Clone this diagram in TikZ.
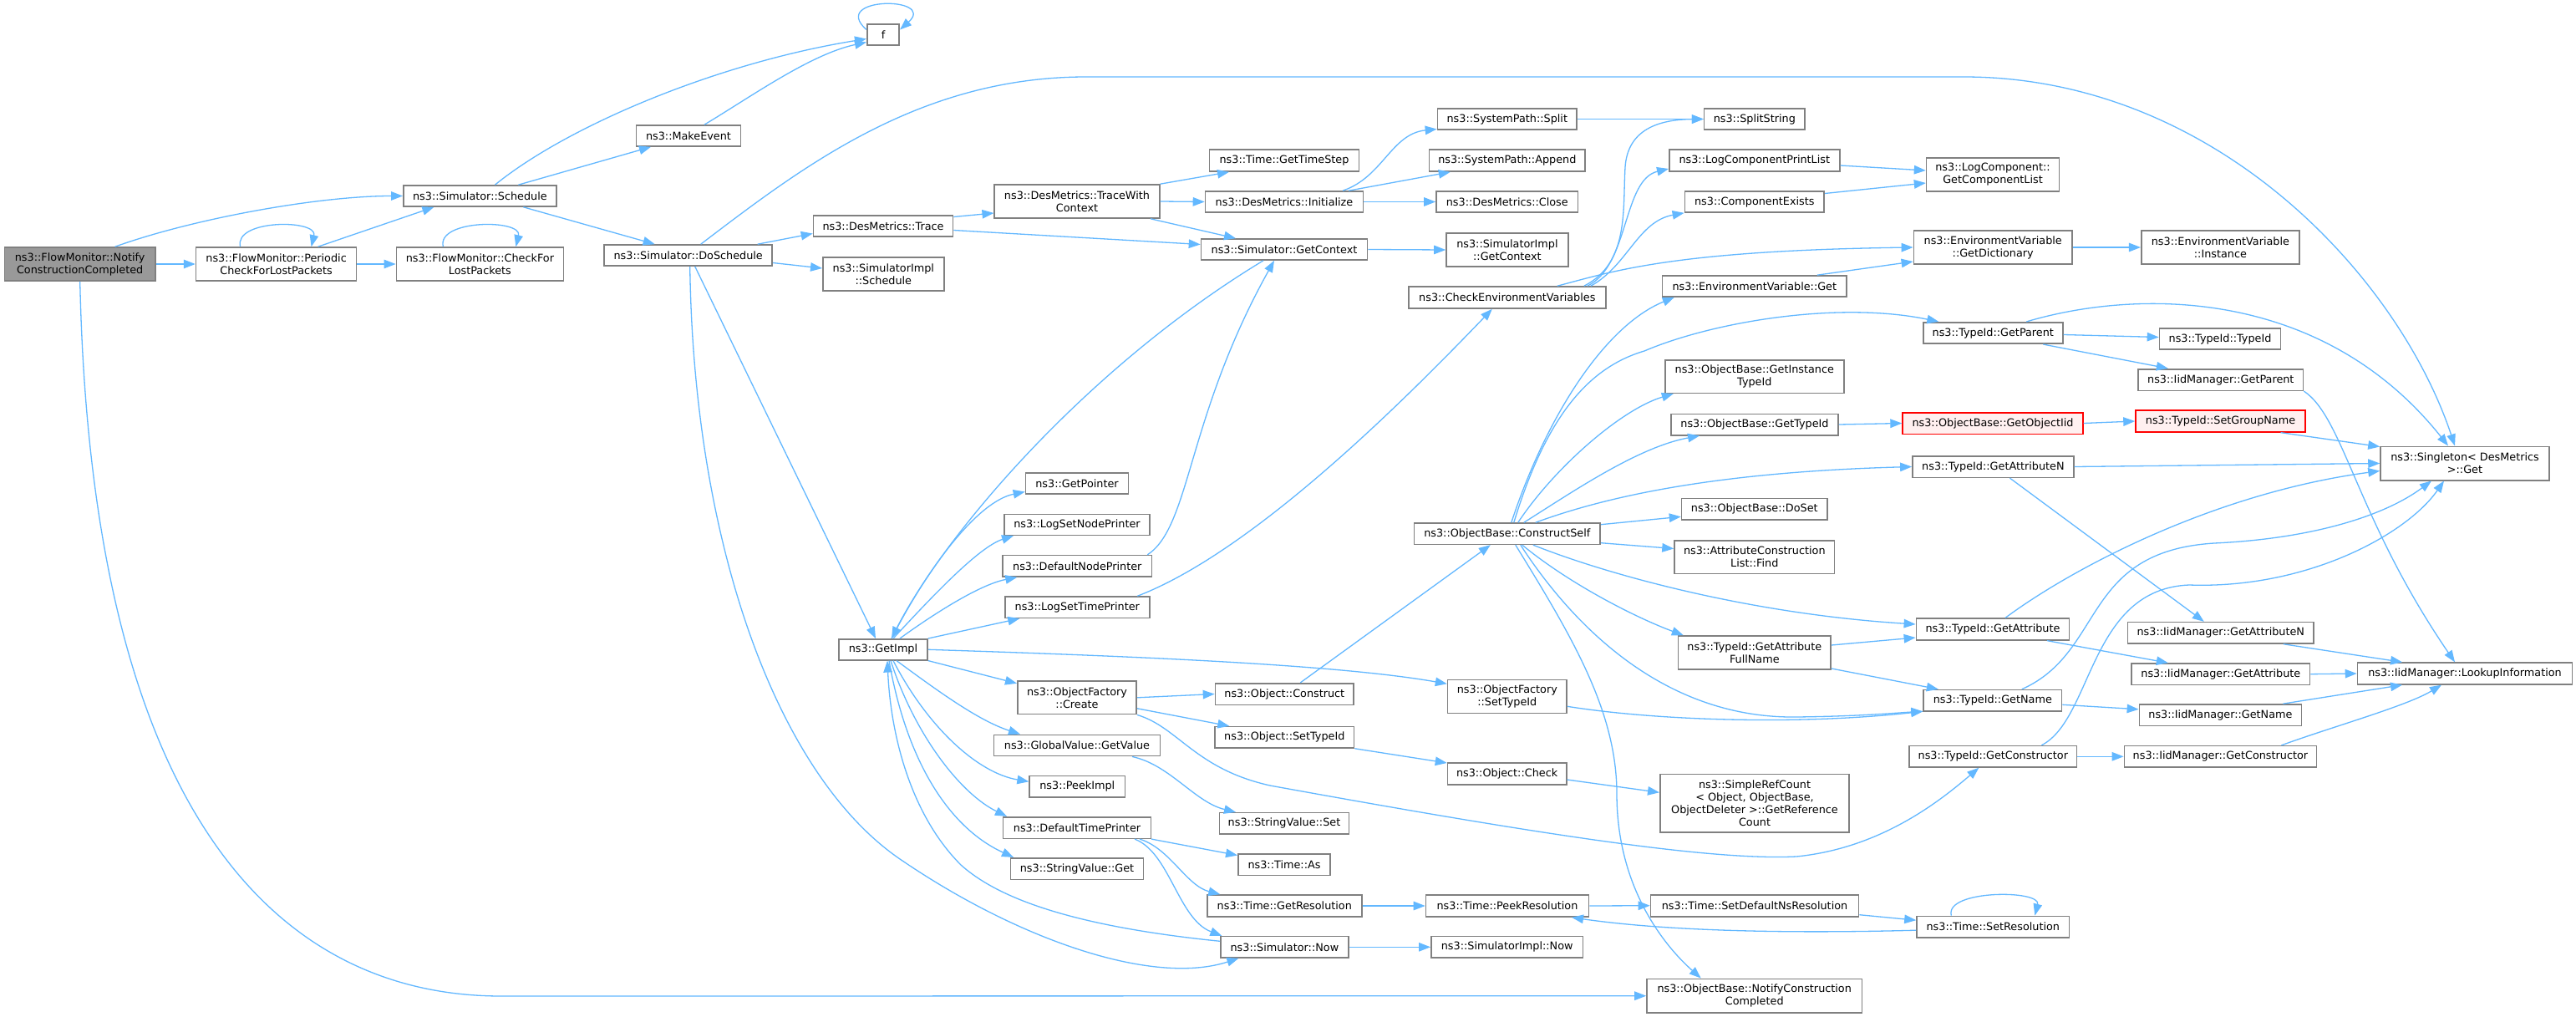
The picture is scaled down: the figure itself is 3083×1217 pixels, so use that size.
\documentclass[tikz,border=0pt]{standalone}
\usepackage{fontspec}
\setmainfont{DejaVu Sans}
\usetikzlibrary{arrows.meta}
\definecolor{edgeblue}{HTML}{63B8FF}
\definecolor{boxgray}{HTML}{808080}
\definecolor{rootfill}{HTML}{999999}
\definecolor{redfill}{HTML}{FFF0F0}
\begin{document}
\begin{tikzpicture}[x=1pt,y=1pt,
  fn/.style={draw=boxgray, line width=1.6pt, fill=white, inner sep=0pt, align=center, font=\fontsize{12.8}{15}\selectfont},
  rootnode/.style={fn, fill=rootfill},
  rednode/.style={fn, draw=red, fill=redfill},
  sz/.style 2 args={minimum width=#1pt, minimum height=#2pt},
  call/.style={draw=edgeblue, line width=1.3pt, -{Triangle[length=14pt,width=10.5pt]}},
]
\fill[white] (0,0) rectangle (3083,-1217);
\useasboundingbox (0,0) rectangle (3083,-1217);

% ---------- nodes ----------
\node[rootnode,sz={180.5}{40}] (root) at (95.7,-316) {ns3::FlowMonitor::Notify\\ConstructionCompleted};
\node[fn,sz={192}{40}] (periodic) at (330.6,-316) {ns3::FlowMonitor::Periodic\\CheckForLostPackets};
\node[fn,sz={200}{40}] (checklost) at (574.4,-316) {ns3::FlowMonitor::CheckFor\\LostPackets};
\node[fn,sz={183}{25}] (schedule) at (574.4,-234.5) {ns3::Simulator::Schedule};
\node[fn,sz={125}{25}] (makeevent) at (824,-162.5) {ns3::MakeEvent};
\node[fn,sz={38.5}{25}] (f) at (1057,-41.5) {f};
\node[fn,sz={201}{25}] (doschedule) at (823.7,-305.5) {ns3::Simulator::DoSchedule};
\node[fn,sz={167}{25}] (trace) at (1057,-270.5) {ns3::DesMetrics::Trace};
\node[fn,sz={145}{40}] (simimplsched) at (1057.3,-328) {ns3::SimulatorImpl\\::Schedule};
\node[fn,sz={106}{25}] (getimpl) at (1057,-777.3) {ns3::GetImpl};
\node[fn,sz={197.5}{40}] (tracewc) at (1289,-241) {ns3::DesMetrics::TraceWith\\Context};
\node[fn,sz={123}{25.5}] (getpointer) at (1289,-578.5) {ns3::GetPointer};
\node[fn,sz={174.5}{25}] (logsetnode) at (1289,-627.8) {ns3::LogSetNodePrinter};
\node[fn,sz={178.6}{25.3}] (defnode) at (1289.3,-677.3) {ns3::DefaultNodePrinter};
\node[fn,sz={173.2}{25.3}] (logsettime) at (1289.3,-726.7) {ns3::LogSetTimePrinter};
\node[fn,sz={142.4}{39.7}] (ofcreate) at (1289,-834.8) {ns3::ObjectFactory\\::Create};
\node[fn,sz={198.7}{25.3}] (globalvalue) at (1289,-892) {ns3::GlobalValue::GetValue};
\node[fn,sz={114.3}{25.3}] (peekimpl) at (1289.3,-941.3) {ns3::PeekImpl};
\node[fn,sz={176.7}{25.6}] (deftime) at (1289,-990.5) {ns3::DefaultTimePrinter};
\node[fn,sz={158.8}{25.6}] (stringget) at (1289,-1039.5) {ns3::StringValue::Get};
\node[fn,sz={179}{26}] (gettimestep) at (1537,-192) {ns3::Time::GetTimeStep};
\node[fn,sz={189}{25}] (initialize) at (1537,-241.5) {ns3::DesMetrics::Initialize};
\node[fn,sz={199}{25}] (getcontext) at (1537,-298.5) {ns3::Simulator::GetContext};
\node[fn,sz={165.6}{25.6}] (objconstruct) at (1537.3,-830.5) {ns3::Object::Construct};
\node[fn,sz={166.5}{25.3}] (objsettypeid) at (1537.3,-882.3) {ns3::Object::SetTypeId};
\node[fn,sz={155}{25.3}] (stringset) at (1537,-985.3) {ns3::StringValue::Set};
\node[fn,sz={110.3}{25.6}] (timeas) at (1537,-1034.5) {ns3::Time::As};
\node[fn,sz={185}{26}] (getres) at (1537.3,-1084) {ns3::Time::GetResolution};
\node[fn,sz={153}{25.3}] (simnow) at (1537.4,-1133.3) {ns3::Simulator::Now};
\node[fn,sz={166.7}{25}] (split) at (1803.8,-142.5) {ns3::SystemPath::Split};
\node[fn,sz={186.7}{26}] (append) at (1803.8,-192) {ns3::SystemPath::Append};
\node[fn,sz={169.6}{25}] (close) at (1803.8,-241.5) {ns3::DesMetrics::Close};
\node[fn,sz={145.8}{40}] (simimplctx) at (1803.9,-299) {ns3::SimulatorImpl\\::GetContext};
\node[fn,sz={236}{26}] (checkenv) at (1803.8,-356) {ns3::CheckEnvironmentVariables};
\node[fn,sz={222.8}{25.3}] (constructself) at (1803.8,-638.7) {ns3::ObjectBase::ConstructSelf};
\node[fn,sz={142.4}{40}] (ofsettypeid) at (1803.8,-833.3) {ns3::ObjectFactory\\::SetTypeId};
\node[fn,sz={142.2}{25.7}] (objcheck) at (1803.6,-926) {ns3::Object::Check};
\node[fn,sz={195}{26}] (peekres) at (1804,-1084) {ns3::Time::PeekResolution};
\node[fn,sz={181.7}{25.3}] (simimplnow) at (1803.7,-1133.3) {ns3::SimulatorImpl::Now};
\node[fn,sz={120.4}{25}] (splitstring) at (2099.8,-142.5) {ns3::SplitString};
\node[fn,sz={204}{26}] (logprintlist) at (2099.8,-192) {ns3::LogComponentPrintList};
\node[fn,sz={166.8}{25}] (compexists) at (2099.8,-241.5) {ns3::ComponentExists};
\node[fn,sz={220.4}{25}] (envget) at (2099.8,-342.5) {ns3::EnvironmentVariable::Get};
\node[fn,sz={213.8}{39.6}] (getinsttypeid) at (2099.8,-450.5) {ns3::ObjectBase::GetInstance\\TypeId};
\node[fn,sz={200}{25.4}] (obgettypeid) at (2100,-508) {ns3::ObjectBase::GetTypeId};
\node[fn,sz={174.5}{25.3}] (doset) at (2099.8,-609.3) {ns3::ObjectBase::DoSet};
\node[fn,sz={191.5}{39.6}] (acfind) at (2099.8,-666.5) {ns3::AttributeConstruction\\List::Find};
\node[fn,sz={182.6}{40}] (getattrfull) at (2099.8,-781) {ns3::TypeId::GetAttribute\\FullName};
\node[fn,sz={226.4}{69.3}] (simpleref) at (2100,-961.3) {ns3::SimpleRefCount\\< Object, ObjectBase,\\ObjectDeleter >::GetReference\\Count};
\node[fn,sz={249}{26}] (setdefns) at (2100,-1083.7) {ns3::Time::SetDefaultNsResolution};
\node[fn,sz={257.4}{40.7}] (notifycc) at (2099.7,-1191.7) {ns3::ObjectBase::NotifyConstruction\\Completed};
\node[fn,sz={158.8}{40}] (getcomplist) at (2385,-209) {ns3::LogComponent::\\GetComponentList};
\node[fn,sz={189.6}{40}] (getdict) at (2385.2,-296) {ns3::EnvironmentVariable\\::GetDictionary};
\node[fn,sz={167}{25.5}] (getparent) at (2385.3,-398.5) {ns3::TypeId::GetParent};
\node[rednode,sz={215.8}{25.6}] (getobjectiid) at (2385,-506.5) {ns3::ObjectBase::GetObjectIid};
\node[fn,sz={193}{25.6}] (tgetattrn) at (2385.4,-558.5) {ns3::TypeId::GetAttributeN};
\node[fn,sz={183.2}{25.7}] (tgetattr) at (2385,-753) {ns3::TypeId::GetAttribute};
\node[fn,sz={165.5}{25.5}] (tgetname) at (2384.8,-838.3) {ns3::TypeId::GetName};
\node[fn,sz={200.7}{25.3}] (tgetctor) at (2385.3,-905.3) {ns3::TypeId::GetConstructor};
\node[fn,sz={182.6}{25.7}] (setres) at (2385.3,-1109.2) {ns3::Time::SetResolution};
\node[fn,sz={189.3}{40}] (envinst) at (2657.4,-296) {ns3::EnvironmentVariable\\::Instance};
\node[fn,sz={145}{25.5}] (typeidctor) at (2657,-405.5) {ns3::TypeId::TypeId};
\node[fn,sz={197.5}{25.6}] (iidparent) at (2657.8,-454.5) {ns3::IidManager::GetParent};
\node[rednode,sz={203}{25.7}] (setgroup) at (2657.5,-504) {ns3::TypeId::SetGroupName};
\node[fn,sz={222.5}{25.3}] (iidattrn) at (2657.8,-757.3) {ns3::IidManager::GetAttributeN};
\node[fn,sz={213.5}{25.3}] (iidattr) at (2657.8,-806.7) {ns3::IidManager::GetAttribute};
\node[fn,sz={194}{25.7}] (iidname) at (2657.4,-855.8) {ns3::IidManager::GetName};
\node[fn,sz={230}{25.3}] (iidctor) at (2657.4,-905.3) {ns3::IidManager::GetConstructor};
\node[fn,sz={202}{40.4}] (singleton) at (2950,-554.5) {ns3::Singleton< DesMetrics\\ >::Get};
\node[fn,sz={257}{25.7}] (lookup) at (2950,-806) {ns3::IidManager::LookupInformation};

% ---------- edges ----------
\draw[call] ([xshift=42]root.north) .. controls (230,-262) and (380,-234.5) .. (schedule.west);
\draw[call] (root.east) -- (periodic.west);
\draw[call] (root.south) .. controls (110,-1000) and (350,-1192) .. (600,-1192) -- (notifycc.west);
\draw[call] ([xshift=-43]periodic.north) .. controls +(-8,33) and +(8,33) .. ([xshift=42]periodic.north);
\draw[call] ([xshift=50]periodic.north) -- ([xshift=-55]schedule.south);
\draw[call] (periodic.east) -- (checklost.west);
\draw[call] ([xshift=-44]checklost.north) .. controls +(-8,33) and +(8,33) .. ([xshift=43]checklost.north);

\draw[call] ([xshift=18]schedule.north) .. controls (680,-150) and (860,-75) .. ([yshift=-5]f.west);
\draw[call] ([xshift=46]schedule.north) -- ([xshift=-45]makeevent.south);
\draw[call] ([xshift=52]schedule.south) -- ([xshift=-40]doschedule.north);
\draw[call] ([xshift=19]makeevent.north) .. controls (900,-115) and (970,-65) .. ([yshift=-9]f.west);
\draw[call] ([yshift=6]f.west) .. controls +(-45,40) and +(45,40) .. ([yshift=6]f.east);

\draw[call] ([xshift=15]doschedule.north) .. controls (960,-200) and (1100,-92) .. (1300,-92) -- (2350,-92) .. controls (2650,-92) and (2870,-330) .. ([xshift=-12]singleton.north);
\draw[call] ([xshift=83]doschedule.north) -- ([yshift=-9]trace.west);
\draw[call] ([yshift=-9]doschedule.east) -- ([yshift=7]simimplsched.west);
\draw[call] ([xshift=8]doschedule.south) -- ([xshift=-9]getimpl.north);
\draw[call] ([xshift=2]doschedule.south) .. controls (830,-650) and (930,-930) .. (1080,-1030) .. controls (1220,-1125) and (1380,-1180) .. ([xshift=-55]simnow.south);

\draw[call] ([yshift=11]trace.east) -- ([yshift=-14]tracewc.west);
\draw[call] ([yshift=-5]trace.east) -- ([yshift=6]getcontext.west);
\draw[call] (tracewc.north east) -- ([xshift=-66]gettimestep.south);
\draw[call] (tracewc.east) -- (initialize.west);
\draw[call] ([xshift=88]tracewc.south) -- ([xshift=-58]getcontext.north);
\draw[call] ([xshift=70]initialize.north) .. controls (1655,-212) and (1665,-160) .. ([yshift=-12]split.west);
\draw[call] ([xshift=77]initialize.north) -- ([xshift=-68]append.south);
\draw[call] (initialize.east) -- (close.west);
\draw[call] (getcontext.east) -- (simimplctx.west);
\draw[call] ([xshift=-25]getcontext.south) .. controls (1300,-440) and (1130,-640) .. ([xshift=10]getimpl.north);
\draw[call] (split.east) -- (splitstring.west);

\draw[call] ([xshift=92]checkenv.north) .. controls (1950,-315) and (1942,-250) .. (1945,-200) .. controls (1948,-155) and (1985,-143) .. (splitstring.west);
\draw[call] ([xshift=96]checkenv.north) .. controls (1950,-318) and (1942,-215) .. ([yshift=-10]logprintlist.west);
\draw[call] ([xshift=100]checkenv.north) .. controls (1948,-318) and (1960,-265) .. (compexists.south west);
\draw[call] ([xshift=60]checkenv.north) .. controls (1930,-325) and (2000,-300) .. (getdict.west);
\draw[call] ([yshift=-6]logprintlist.east) -- ([yshift=5]getcomplist.west);
\draw[call] ([yshift=10]compexists.east) -- ([yshift=-10]getcomplist.west);
\draw[call] ([xshift=75]envget.north) -- ([yshift=-17]getdict.west);
\draw[call] (getdict.east) -- (envinst.west);

\draw[call] ([xshift=5]constructself.north) .. controls (1850,-500) and (1920,-390) .. ([xshift=-96]envget.south);
\draw[call] ([xshift=8]constructself.north) .. controls (1850,-500) and (1900,-440) .. (1968,-420) .. controls (2050,-385) and (2200,-360) .. ([xshift=-65]getparent.north);
\draw[call] ([xshift=13]constructself.north) .. controls (1860,-560) and (1940,-490) .. ([xshift=-97]getinsttypeid.south);
\draw[call] ([xshift=20]constructself.north) .. controls (1880,-590) and (1960,-535) .. ([xshift=-66]obgettypeid.south);
\draw[call] ([xshift=34]constructself.north) .. controls (1920,-595) and (2050,-565) .. (tgetattrn.west);
\draw[call] ([yshift=11]constructself.east) -- ([yshift=-9]doset.west);
\draw[call] ([yshift=-11]constructself.east) -- ([yshift=10]acfind.west);
\draw[call] ([xshift=31]constructself.south) .. controls (1930,-690) and (2100,-735) .. ([yshift=6]tgetattr.west);
\draw[call] ([xshift=18]constructself.south) .. controls (1880,-700) and (1960,-740) .. ([xshift=-85]getattrfull.north);
\draw[call] ([xshift=16]constructself.south) .. controls (1890,-760) and (2000,-860) .. (2150,-858) .. controls (2230,-857) and (2270,-853) .. ([yshift=-13]tgetname.west);
\draw[call] ([xshift=10]constructself.south) .. controls (1880,-760) and (1935,-850) .. (1935,-950) .. controls (1935,-1060) and (1990,-1130) .. ([xshift=-64]notifycc.north);

\draw[call] ([yshift=-2]getparent.east) -- ([yshift=2]typeidctor.west);
\draw[call] ([xshift=60]getparent.south) -- ([xshift=-63]iidparent.north);
\draw[call] ([xshift=40]getparent.north) .. controls (2560,-345) and (2780,-345) .. ([xshift=-20]singleton.north);
\draw[call] (iidparent.south east) .. controls (2805,-500) and (2820,-620) .. ([xshift=-12]lookup.north);
\draw[call] (obgettypeid.east) -- (getobjectiid.west);
\draw[call] (getobjectiid.east) -- (setgroup.west);
\draw[call] ([xshift=72]setgroup.south) -- ([yshift=20]singleton.west);
\draw[call] (tgetattrn.east) -- (singleton.west);
\draw[call] ([xshift=20]tgetattrn.south) -- ([xshift=-20]iidattrn.north);
\draw[call] ([xshift=75]iidattrn.south) -- ([xshift=-75]lookup.north);
\draw[call] ([xshift=15]tgetattr.north) .. controls (2480,-680) and (2650,-590) .. ([yshift=-9]singleton.west);
\draw[call] ([xshift=65]tgetattr.south) -- ([xshift=-63]iidattr.north);
\draw[call] (iidattr.east) -- (lookup.west);
\draw[call] ([xshift=35]tgetname.north) .. controls (2520,-780) and (2490,-660) .. (2650,-650) .. controls (2760,-645) and (2850,-620) .. ([xshift=-40]singleton.south);
\draw[call] ([yshift=-5]tgetname.east) -- ([yshift=7]iidname.west);
\draw[call] ([xshift=75]iidname.north) -- ([xshift=-75]lookup.south);
\draw[call] ([xshift=58]tgetctor.north) .. controls (2505,-860) and (2500,-705) .. (2620,-700) .. controls (2760,-705) and (2880,-640) .. ([xshift=-25]singleton.south);
\draw[call] (tgetctor.east) -- (iidctor.west);
\draw[call] ([xshift=73]iidctor.north) .. controls (2790,-870) and (2880,-845) .. ([xshift=-28]lookup.south);
\draw[call] ([yshift=9]getattrfull.east) -- ([yshift=-10]tgetattr.west);
\draw[call] ([yshift=-19]getattrfull.east) -- ([xshift=-65]tgetname.north);
\draw[call] ([yshift=-12]ofsettypeid.east) .. controls (1980,-862) and (2150,-868) .. ([yshift=-13]tgetname.west);

\draw[call] (ofcreate.east) -- (objconstruct.west);
\draw[call] ([yshift=-13]ofcreate.east) -- ([xshift=-66]objsettypeid.north);
\draw[call] (ofcreate.south east) .. controls (1410,-870) and (1430,-920) .. (1520,-940) .. controls (1850,-1000) and (2050,-1030) .. (2150,-1025) .. controls (2250,-1015) and (2320,-960) .. ([xshift=-17]tgetctor.south);
\draw[call] ([xshift=19]objconstruct.north) -- ([xshift=-20]constructself.south);
\draw[call] (objsettypeid.south east) -- ([yshift=13]objcheck.west);
\draw[call] ([yshift=-7]objcheck.east) -- ([yshift=13]simpleref.west);
\draw[call] ([xshift=66]globalvalue.south) .. controls (1400,-915) and (1430,-960) .. ([xshift=-58]stringset.north);

\draw[call] ([xshift=10]getimpl.north) .. controls (1110,-680) and (1170,-600) .. ([yshift=-10]getpointer.west);
\draw[call] ([xshift=12]getimpl.north) .. controls (1110,-720) and (1170,-655) .. ([xshift=-76]logsetnode.south);
\draw[call] ([xshift=20]getimpl.north) .. controls (1110,-740) and (1170,-700) .. ([xshift=-72]defnode.south);
\draw[call] (getimpl.north east) -- ([xshift=-69]logsettime.south);
\draw[call] (getimpl.east) .. controls (1350,-785) and (1600,-795) .. ([yshift=15]ofsettypeid.west);
\draw[call] (getimpl.south east) -- ([yshift=17]ofcreate.west);
\draw[call] ([xshift=16]getimpl.south) .. controls (1120,-825) and (1170,-862) .. ([xshift=-68]globalvalue.north);
\draw[call] ([xshift=12]getimpl.south) .. controls (1110,-870) and (1170,-925) .. ([yshift=6]peekimpl.west);
\draw[call] ([xshift=9]getimpl.south) .. controls (1095,-880) and (1150,-950) .. ([xshift=-84]deftime.north);
\draw[call] ([xshift=7]getimpl.south) .. controls (1085,-910) and (1135,-990) .. ([xshift=-76]stringget.north);
\draw[call] ([yshift=7]simnow.west) .. controls (1300,-1110) and (1200,-1080) .. (1150,-1035) .. controls (1090,-975) and (1066,-880) .. ([xshift=5]getimpl.south);

\draw[call] (deftime.south east) -- ([yshift=11]timeas.west);
\draw[call] ([xshift=75]deftime.south) .. controls (1400,-1015) and (1420,-1060) .. ([xshift=-77]getres.north);
\draw[call] ([xshift=69]deftime.south) .. controls (1400,-1020) and (1410,-1100) .. ([xshift=-75]simnow.north);
\draw[call] (getres.east) -- (peekres.west);
\draw[call] (peekres.east) -- (setdefns.west);
\draw[call] ([yshift=-11]setdefns.east) -- ([yshift=8]setres.west);
\draw[call] ([yshift=-4]setres.west) .. controls (2150,-1117) and (2000,-1115) .. ([xshift=77]peekres.south);
\draw[call] ([xshift=-50]setres.north) .. controls +(-8,31) and +(8,31) .. ([xshift=50]setres.north);
\draw[call] (simnow.east) -- (simimplnow.west);
\draw[call] ([xshift=72]logsettime.north) .. controls (1500,-660) and (1680,-480) .. ([xshift=-18]checkenv.south);
\draw[call] ([xshift=84]defnode.north) .. controls (1425,-630) and (1420,-500) .. ([xshift=-12]getcontext.south);
\end{tikzpicture}
\end{document}
